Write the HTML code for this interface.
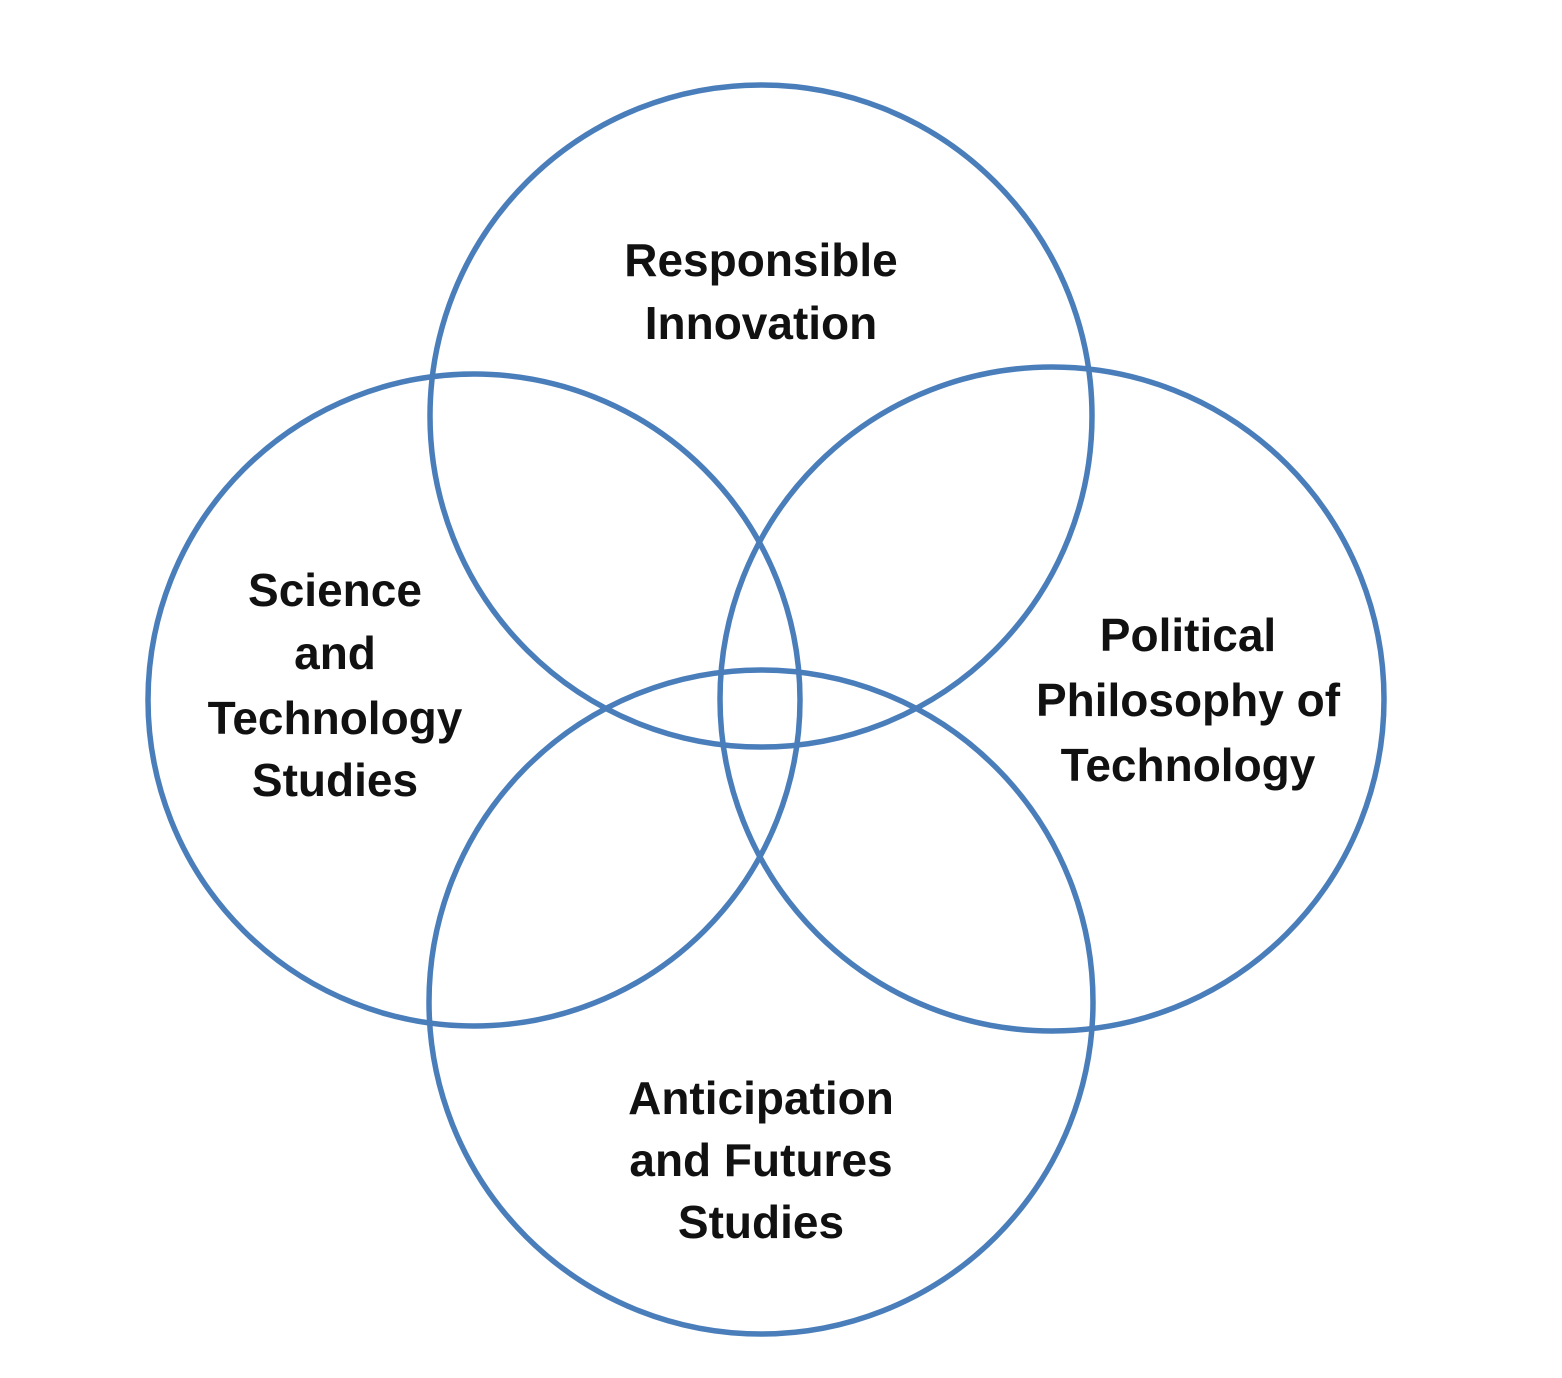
<!DOCTYPE html>
<html><head><meta charset="utf-8"><style>html,body{margin:0;padding:0;background:#fff}svg{display:block}</style></head>
<body>
<svg width="1562" height="1378" viewBox="0 0 1562 1378" xmlns="http://www.w3.org/2000/svg">
<g fill="none" stroke="#4a7ebb" stroke-width="5.5">
<circle cx="761" cy="416" r="331"/>
<circle cx="474" cy="700" r="326"/>
<circle cx="1052" cy="699" r="332"/>
<circle cx="761" cy="1002" r="332"/>
</g>
<g font-family="Liberation Sans, sans-serif" font-size="46" font-weight="bold" fill="#111" text-anchor="middle" dominant-baseline="central">
<text x="761" y="260">Responsible</text>
<text x="761" y="323">Innovation</text>
<text x="335" y="590">Science</text>
<text x="335" y="653">and</text>
<text x="335" y="718">Technology</text>
<text x="335" y="780">Studies</text>
<text x="1188" y="635">Political</text>
<text x="1188" y="700">Philosophy of</text>
<text x="1188" y="765">Technology</text>
<text x="761" y="1098">Anticipation</text>
<text x="761" y="1160">and Futures</text>
<text x="761" y="1222">Studies</text>
</g>
</svg>
</body></html>
